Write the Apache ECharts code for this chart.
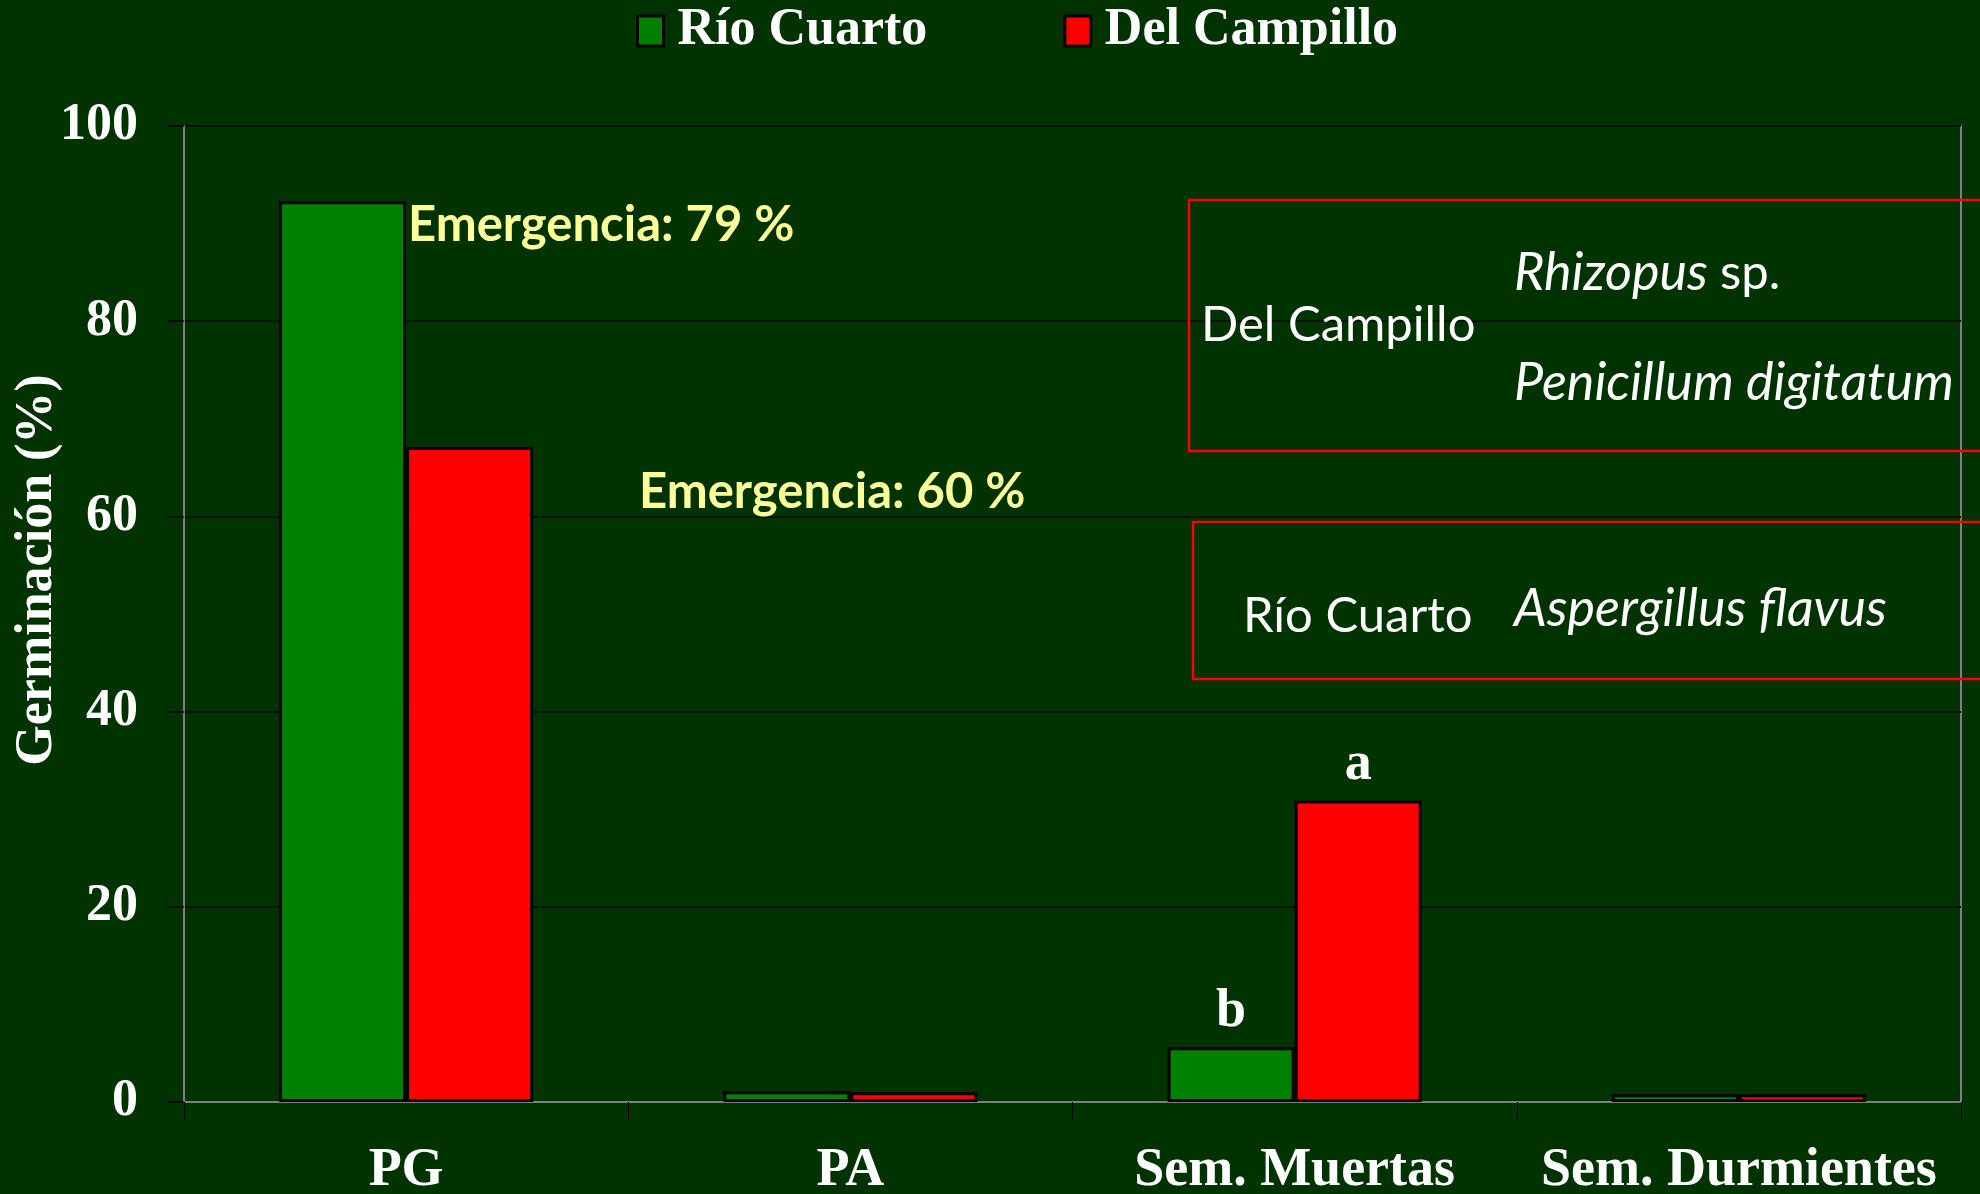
<!DOCTYPE html>
<html>
<head>
<meta charset="utf-8">
<title>Germinación</title>
<script src="https://cdn.jsdelivr.net/npm/echarts@6/dist/echarts.min.js"></script>
<style>
  html, body { margin: 0; padding: 0; background: #003300; }
  #chart { width: 1980px; height: 1194px; }
</style>
</head>
<body>
<div id="chart"></div>
<script>
// datos
const categories = ['PG', 'PA', 'Sem. Muertas', 'Sem. Durmientes'];
const rioCuarto = [92.3, 1.1, 5.6, 0.8];
const delCampillo = [67.1, 1.0, 30.9, 0.8];
// letras de significancia
const rioLetters = ['', '', 'b', ''];
const delLetters = ['', '', 'a', ''];
const yTicks = [0, 20, 40, 60, 80, 100];

const serif = '"Liberation Serif", "Times New Roman", serif';
const sans = 'Lato, "Open Sans", sans-serif';

function letterLabel(letters) {
  return {
    show: true,
    position: 'top',
    distance: 8,
    color: '#fff',
    fontFamily: serif,
    fontWeight: 'bold',
    fontSize: 54,
    formatter: p => letters[p.dataIndex]
  };
}

// ancho de "Rhizopus " para colocar "sp." detras
const ctx = document.createElement('canvas').getContext('2d');
ctx.font = 'italic 52px ' + sans;
const rhizoW = ctx.measureText('Rhizopus ').width;

const chart = echarts.init(document.getElementById('chart'));

const option = {
  backgroundColor: '#003300',
  animation: false,
  legend: {
    left: 631,
    top: 0,
    itemWidth: 26,
    itemHeight: 30,
    itemGap: 136,
    icon: 'rect',
    itemStyle: { borderColor: '#000', borderWidth: 3 },
    textStyle: {
      color: '#fff',
      fontFamily: serif,
      fontWeight: 'bold',
      fontSize: 52,
      padding: [0, 0, 0, 9]
    },
    data: ['Río Cuarto', 'Del Campillo']
  },
  grid: {
    left: 184,
    right: 19,
    top: 126,
    bottom: 92,
    outerBoundsMode: 'none',
    containLabel: false,
    show: true,
    borderColor: '#808080',
    borderWidth: 2,
    backgroundColor: 'transparent'
  },
  xAxis: {
    type: 'category',
    data: categories,
    axisLine: { lineStyle: { color: '#808080', width: 2 } },
    axisTick: { show: true, length: 17, lineStyle: { color: '#000', width: 1 } },
    axisLabel: {
      color: '#fff',
      fontFamily: serif,
      fontWeight: 'bold',
      fontSize: 54,
      margin: 42,
      interval: 0
    }
  },
  yAxis: {
    type: 'value',
    min: yTicks[0],
    max: yTicks[yTicks.length - 1],
    interval: 20,
    name: 'Germinación (%)',
    nameLocation: 'middle',
    nameRotate: 90,
    nameGap: 120,
    nameMoveOverlap: false,
    nameTextStyle: {
      color: '#fff',
      fontFamily: serif,
      fontWeight: 'bold',
      fontSize: 52,
      padding: [0, 0, 0, 88]
    },
    axisLine: { show: true, lineStyle: { color: '#808080', width: 2 } },
    axisTick: { show: true, length: 16, lineStyle: { color: '#000', width: 1.5 } },
    axisLabel: {
      color: '#fff',
      fontFamily: serif,
      fontWeight: 'bold',
      fontSize: 52,
      margin: 46
    },
    splitLine: { lineStyle: { color: '#001400', width: 2 } }
  },
  series: [
    {
      name: 'Río Cuarto',
      type: 'bar',
      data: rioCuarto,
      barGap: '0%',
      barCategoryGap: '42.8%',
      itemStyle: { color: '#008000', borderColor: '#000', borderWidth: 3 },
      label: letterLabel(rioLetters)
    },
    {
      name: 'Del Campillo',
      type: 'bar',
      data: delCampillo,
      itemStyle: { color: '#FF0000', borderColor: '#000', borderWidth: 3 },
      label: letterLabel(delLetters)
    }
  ],
  graphic: [
    // recuadros con los hongos
    {
      type: 'rect', z: 20,
      shape: { x: 1189, y: 200, width: 900, height: 251 },
      style: { fill: 'none', stroke: '#FF0000', lineWidth: 2.5 }
    },
    {
      type: 'rect', z: 20,
      shape: { x: 1193, y: 522, width: 900, height: 157 },
      style: { fill: 'none', stroke: '#FF0000', lineWidth: 2.5 }
    },
    {
      type: 'text', x: 1201, y: 325, z: 20,
      style: { text: 'Del Campillo', fill: '#fff', font: '49px ' + sans, verticalAlign: 'middle' }
    },
    {
      type: 'text', x: 1514, y: 273, z: 20,
      style: { text: 'Rhizopus', fill: '#fff', font: 'italic 52px ' + sans, verticalAlign: 'middle' }
    },
    {
      type: 'text', x: 1514 + rhizoW, y: 273, z: 20,
      style: { text: 'sp.', fill: '#fff', font: '49px ' + sans, verticalAlign: 'middle' }
    },
    {
      type: 'text', x: 1514, y: 383, z: 20,
      style: { text: 'Penicillum digitatum', fill: '#fff', font: 'italic 52px ' + sans, verticalAlign: 'middle' }
    },
    {
      type: 'text', x: 1243, y: 616, z: 20,
      style: { text: 'Río Cuarto', fill: '#fff', font: '49px ' + sans, verticalAlign: 'middle' }
    },
    {
      type: 'text', x: 1514, y: 609, z: 20,
      style: { text: 'Aspergillus flavus', fill: '#fff', font: 'italic 52px ' + sans, verticalAlign: 'middle' }
    },
    // emergencia
    {
      type: 'text', x: 408, y: 225, z: 20,
      style: { text: 'Emergencia: 79 %', fill: '#FFFF99', font: 'bold 49px ' + sans, verticalAlign: 'middle' }
    },
    {
      type: 'text', x: 639, y: 492, z: 20,
      style: { text: 'Emergencia: 60 %', fill: '#FFFF99', font: 'bold 49px ' + sans, verticalAlign: 'middle' }
    }
  ]
};

chart.setOption(option);
</script>
</body>
</html>
